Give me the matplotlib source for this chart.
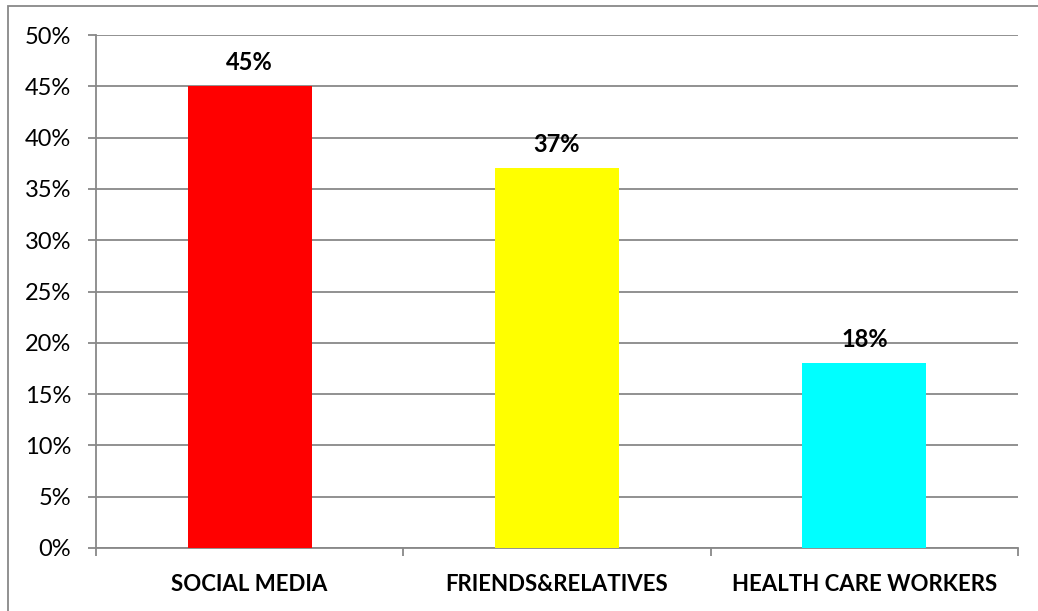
import numpy as np
import matplotlib
matplotlib.use("Agg")
import matplotlib.pyplot as plt
from matplotlib.patches import Rectangle

# data
categories = ["SOCIAL MEDIA", "FRIENDS&RELATIVES", "HEALTH CARE WORKERS"]
values = [45, 37, 18]
bar_colors = ["#ff0000", "#ffff00", "#00ffff"]
yticks = [0, 5, 10, 15, 20, 25, 30, 35, 40, 45, 50]

plt.rcParams['font.family'] = ['Lato', 'DejaVu Sans']
grid_col = "#888888"

fig = plt.figure(figsize=(10.38, 6.11), dpi=100)
ax = fig.add_axes([96/1038, 1-548/611, (1018-96)/1038, (548-35)/611])

x = np.arange(len(categories))
ax.bar(x, values, width=0.403, color=bar_colors, zorder=3)
for xi, v in zip(x, values):
    ax.annotate("%d%%" % v, (xi, v), xytext=(0, 9), textcoords="offset points",
                ha="center", va="bottom", fontsize=17, fontweight="bold", zorder=4)

ax.set_xlim(-0.5, len(categories) - 0.5)
ax.set_ylim(0, 50)
ax.set_yticks(yticks)
ax.set_yticklabels(["%d%%" % t for t in yticks], fontsize=17)
ax.yaxis.grid(True, color=grid_col, lw=1.3, zorder=0)
ax.set_axisbelow(True)

# category labels between boundary ticks
ax.set_xticks(np.arange(len(categories) + 1) - 0.5)
ax.set_xticklabels([])
ax.set_xticks(x, minor=True)
ax.set_xticklabels(categories, minor=True, fontsize=16, fontweight="bold")
ax.tick_params(axis="x", which="minor", length=0, pad=19)
ax.tick_params(axis="x", which="major", length=6, width=1.3, color=grid_col)
ax.tick_params(axis="y", length=6, width=1.3, color=grid_col, pad=12)

for s in ["top", "right"]:
    ax.spines[s].set_visible(False)
for s in ["left", "bottom"]:
    ax.spines[s].set_color(grid_col)
    ax.spines[s].set_linewidth(1.3)

# outer chart border
fig.patches.append(Rectangle((8/1038, -0.1), 1.2, 1.1 - 6/611, transform=fig.transFigure,
                             fill=False, edgecolor=grid_col, lw=1.3))

fig.savefig("out.png", dpi=100)
